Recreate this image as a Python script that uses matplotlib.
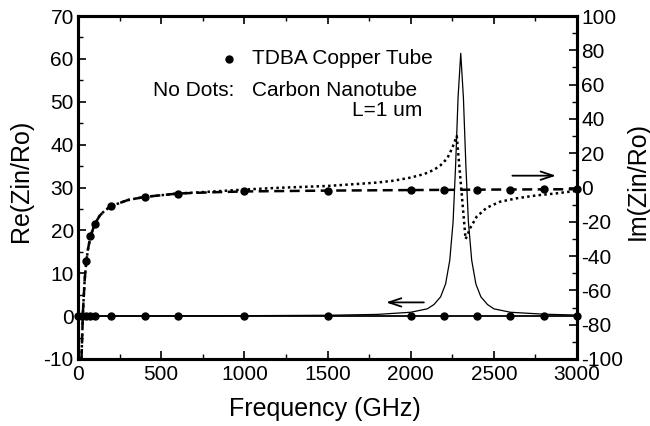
import matplotlib
matplotlib.use("Agg")
import matplotlib.pyplot as plt
import numpy as np
from matplotlib.ticker import MultipleLocator

plt.rcParams['font.family'] = ['Liberation Sans', 'DejaVu Sans']
plt.rcParams['axes.unicode_minus'] = False

# --- Data ---
# TDBA copper tube: dot frequencies (GHz)
cu_re_freq = [0, 25, 50, 75, 100, 200, 400, 600, 1000, 1500, 2000, 2200, 2400, 2600, 2800, 3000]
cu_re_val = [0, 0, 0, 0, 0, 0, 0, 0, 0, 0, 0, 0, 0, 0, 0, 0]          # Re(Zin/Ro), left axis

cu_im_freq = [50, 75, 100, 200, 400, 600, 1000, 1500, 2000, 2200, 2400, 2600, 2800, 3000]
cu_im_val = [-43, -28.5, -21.5, -10.8, -5.5, -3.5, -2.3, -1.8, -1.5, -1.4, -1.3, -1.2, -1.1, -1.0]  # Im, right axis

# Copper Im dashed curve (right axis)
cu_im_curve_freq = [21, 25, 30, 40, 50, 60, 75, 100, 130, 160, 200, 300, 400, 600, 800,
                    1000, 1500, 2000, 2500, 3000]
cu_im_curve_val = [-100, -87, -72, -54, -43, -36, -28.5, -21.5, -16.5, -13.5, -10.8, -7.3,
                   -5.5, -3.5, -2.8, -2.3, -1.8, -1.5, -1.2, -1.0]

# Carbon nanotube Re (left axis)
cnt_re_freq = [0, 500, 1000, 1500, 1800, 2000, 2100, 2140, 2180, 2210, 2235, 2255, 2270, 2285,
               2301, 2317, 2332, 2347, 2367, 2392, 2422, 2462, 2500, 2600, 2800, 3000]
cnt_re_val = [0, 0.05, 0.1, 0.2, 0.4, 0.9, 1.7, 2.7, 4.5, 7.5, 13.0, 22.0, 35.0, 51.0,
              61.3, 51.0, 35.0, 22.0, 13.0, 7.5, 4.5, 2.7, 1.7, 0.9, 0.45, 0.25]

# Carbon nanotube Im (right axis)
cnt_im_freq = [21, 25, 30, 40, 50, 60, 75, 100, 130, 160, 200, 300, 400, 600, 800, 1000,
               1200, 1500, 1700, 1800, 1900, 2000, 2080, 2140, 2180, 2220, 2250, 2277,
               2330, 2340, 2357, 2397, 2457, 2537, 2637, 2757, 2878, 3000]
cnt_im_val = [-100, -87, -72, -54, -43, -36, -28.5, -21.5, -16.5, -13.5, -10.8, -7.3, -5.5,
              -3.5, -2.4, -1.2, -0.2, 0.9, 2.2, 2.9, 4.0, 5.8, 7.8, 10.3, 13.0, 17.0, 23.0, 30.0,
              -30.0, -28.0, -23.8, -17.0, -11.8, -8.3, -6.3, -4.6, -3.4, -1.9]

# --- Figure ---
fig = plt.figure(figsize=(6.5, 4.26), dpi=100)
ax = fig.add_axes([0.12, 0.1573, 0.7677, 0.8051])
ax2 = ax.twinx()

ax.plot(cnt_re_freq, cnt_re_val, color='black', lw=0.9, zorder=3)
ax.plot(cu_re_freq, cu_re_val, color='black', lw=1.3, marker='o', ms=5, zorder=4, clip_on=False)

ax2.plot(cu_im_curve_freq, cu_im_curve_val, color='black', lw=1.8, ls=(0, (4, 2.2)), zorder=3)
ax2.plot(cu_im_freq, cu_im_val, ls='none', color='black', marker='o', ms=5, zorder=4, clip_on=False)
ax2.plot(cnt_im_freq, cnt_im_val, color='black', lw=1.8, ls=(0, (1, 1.3)), zorder=3)

ax.set_xlim(0, 3000)
ax.set_ylim(-10, 70)
ax2.set_ylim(-100, 100)

ax.xaxis.set_major_locator(MultipleLocator(500))
ax.xaxis.set_minor_locator(MultipleLocator(250))
ax.yaxis.set_major_locator(MultipleLocator(10))
ax.yaxis.set_minor_locator(MultipleLocator(5))
ax2.yaxis.set_major_locator(MultipleLocator(20))
ax2.yaxis.set_minor_locator(MultipleLocator(10))

ax.tick_params(axis='x', which='both', direction='in', top=True, bottom=True, labelsize=15, pad=4)
ax.tick_params(axis='y', which='both', direction='in', left=True, right=False, labelsize=15, pad=3)
ax.tick_params(which='major', length=6, width=1.2)
ax.tick_params(which='minor', length=3.5, width=1.0)
ax2.tick_params(axis='y', which='both', direction='in', labelsize=15, pad=3)
ax2.tick_params(which='major', length=6, width=1.2)
ax2.tick_params(which='minor', length=3.5, width=1.0)

for a in (ax, ax2):
    for s in a.spines.values():
        s.set_linewidth(2.2)

ax.set_xlabel('Frequency (GHz)', fontsize=18)
ax.set_ylabel('Re(Zin/Ro)', fontsize=18)
ax2.set_ylabel('Im(Zin/Ro)', fontsize=18)
# label positions in axes coordinates (axes: x 78..577 px, y 16..359 px)
ax.xaxis.set_label_coords(0.494, -0.111)
ax.yaxis.set_label_coords(-0.090, 0.52)
ax2.yaxis.set_label_coords(1.098, 0.52)

# Annotations
ax.plot([909], [60.0], marker='o', color='black', ms=5, ls='none')
ax.text(1046, 60.0, 'TDBA Copper Tube', fontsize=15, va='center', ha='left')
ax.text(453, 52.7, 'No Dots:', fontsize=15, va='center', ha='left')
ax.text(1046, 52.7, 'Carbon Nanotube', fontsize=15, va='center', ha='left')
ax.text(2068, 48.0, 'L=1 um', fontsize=15, va='center', ha='right')

ax2.annotate('', xy=(2890, 6.9), xytext=(2595, 6.9),
             arrowprops=dict(arrowstyle='->,head_length=0.9,head_width=0.3', lw=1.3, color='black'))
ax.annotate('', xy=(1835, 3.2), xytext=(2096, 3.2),
            arrowprops=dict(arrowstyle='->,head_length=0.9,head_width=0.3', lw=1.3, color='black'))

fig.savefig('out.png', dpi=100)
